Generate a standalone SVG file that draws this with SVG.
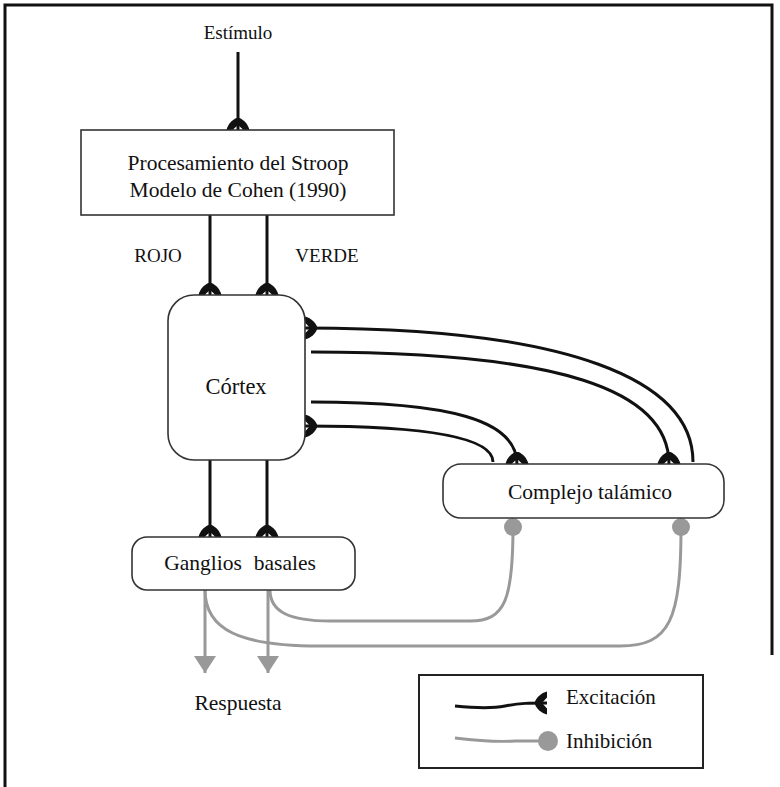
<svg xmlns="http://www.w3.org/2000/svg" width="780" height="787" viewBox="0 0 780 787">
  <style>
    text { font-family: "Liberation Serif", "Times New Roman", serif; font-size: 21.5px; fill: #111; text-anchor: middle; }
    .small { font-size: 19px; }
    .legend { font-size: 21px; text-anchor: start; }
    .box { fill: #fff; stroke: #333; stroke-width: 1.6; }
    .exc { fill: none; stroke: #111; stroke-width: 3; }
    .inh { fill: none; stroke: #999; stroke-width: 3; }
    .frame { fill: none; stroke: #111; stroke-width: 3; }
  </style>
  <defs>
    <!-- excitatory ending: domed fork whose arms touch the target -->
    <marker id="excite" markerUnits="userSpaceOnUse" markerWidth="30" markerHeight="30" viewBox="-15 -15 30 30" refX="0" refY="0" orient="auto">
      <path d="M -12,-1.5 C -10,-6 -6,-10 0,-11.5 L 0,-5.5 L -5,0 L 0,5.5 L 0,11.5 C -6,10 -10,6 -12,1.5 Z" fill="#111"/>
    </marker>
    <marker id="arrow" markerUnits="userSpaceOnUse" markerWidth="30" markerHeight="30" viewBox="-20 -15 30 30" refX="0" refY="0" orient="auto">
      <path d="M -17,-11 L 0,0 L -17,11 Z" fill="#999"/>
    </marker>
  </defs>

  <!-- outer frame -->
  <path class="frame" d="M 5,787 L 5,5 L 772,5 L 772,655"/>

  <!-- connectors -->
  <g id="connectors">
    <!-- stimulus into Stroop model -->
    <line class="exc" x1="238" y1="52" x2="238" y2="130" marker-end="url(#excite)"/>
    <!-- ROJO / VERDE into cortex -->
    <line class="exc" x1="210" y1="215" x2="210" y2="295" marker-end="url(#excite)"/>
    <line class="exc" x1="267" y1="215" x2="267" y2="295" marker-end="url(#excite)"/>
    <!-- cortex to basal ganglia -->
    <line class="exc" x1="210" y1="460" x2="210" y2="537" marker-end="url(#excite)"/>
    <line class="exc" x1="267" y1="460" x2="267" y2="537" marker-end="url(#excite)"/>
    <!-- cortex <-> thalamus loops -->
    <path class="exc" d="M 693,462 C 693,380 570,328 305,328" marker-end="url(#excite)"/>
    <path class="exc" d="M 311,352 C 560,352 669,390 669,464" marker-end="url(#excite)"/>
    <path class="exc" d="M 311,402 C 450,402 517,420 517,464" marker-end="url(#excite)"/>
    <path class="exc" d="M 493,462 C 493,440 440,426 305,426" marker-end="url(#excite)"/>
    <!-- basal ganglia inhibiting thalamus -->
    <path class="inh" d="M 270,590 C 270,612 290,621 330,621 L 470,621 C 505,621 513,600 513,527"/>
    <path class="inh" d="M 205,590 C 205,630 240,646 320,646 L 620,646 C 670,646 681,620 681,527"/>
    <circle cx="513" cy="527" r="9" fill="#999"/>
    <circle cx="681" cy="527" r="9" fill="#999"/>
    <!-- output -->
    <line class="inh" x1="205" y1="590" x2="205" y2="673" marker-end="url(#arrow)"/>
    <line class="inh" x1="268" y1="590" x2="268" y2="673" marker-end="url(#arrow)"/>
  </g>

  <g id="estimulo">
    <text class="small" x="238" y="39">Estímulo</text>
  </g>

  <g id="stroop">
    <rect class="box" x="81" y="130" width="313" height="85"/>
    <text x="238" y="170">Procesamiento del Stroop</text>
    <text x="238" y="197">Modelo de Cohen (1990)</text>
  </g>

  <g id="labels">
    <text class="small" x="158" y="262">ROJO</text>
    <text class="small" x="327" y="262">VERDE</text>
  </g>

  <g id="cortex">
    <rect class="box" x="168" y="295" width="137" height="165" rx="26" ry="26"/>
    <text x="236" y="394" style="font-size:22.5px">Córtex</text>
  </g>

  <g id="talamo">
    <rect class="box" x="443" y="464" width="281" height="54" rx="18" ry="18"/>
    <text x="590" y="499">Complejo talámico</text>
  </g>

  <g id="ganglios">
    <rect class="box" x="132" y="537" width="223" height="53" rx="15" ry="15"/>
    <text x="240" y="570">Ganglios<tspan dx="12">basales</tspan></text>
  </g>

  <g id="respuesta">
    <text x="238" y="710">Respuesta</text>
  </g>

  <g id="leyenda">
    <rect x="419" y="675" width="284" height="93" fill="#fff" stroke="#222" stroke-width="2"/>
    <path class="exc" d="M 455,706 C 475,708 490,709 505,706 C 520,703 530,703 547,703" marker-end="url(#excite)"/>
    <text class="legend" x="566" y="704">Excitación</text>
    <path class="inh" d="M 455,738 C 480,741 500,742 515,741 L 540,741"/>
    <circle cx="548" cy="741" r="10" fill="#999"/>
    <text class="legend" x="566" y="748">Inhibición</text>
  </g>
</svg>
